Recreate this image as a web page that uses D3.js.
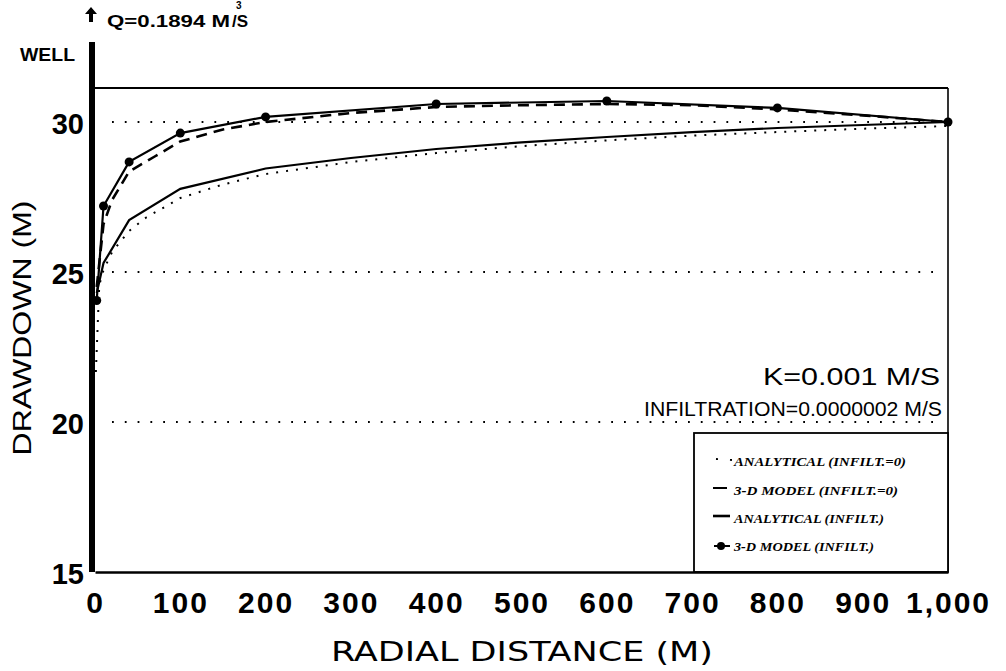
<!DOCTYPE html>
<html>
<head>
<meta charset="utf-8">
<script src="https://cdn.jsdelivr.net/npm/d3@7"></script>
<style>
  body { margin: 0; background: #fff; }
  svg text { font-family: "Liberation Sans", Arial, sans-serif; fill: #000; }
</style>
</head>
<body>
<div id="my_dataviz"></div>
<script>
// data
var xTicks = [0, 100, 200, 300, 400, 500, 600, 700, 800, 900, 1000]
var yTicks = [15, 20, 25, 30]

// analytical, no infiltration (dotted)
var anaNoInfR = [1, 5, 10, 20, 40, 60, 100, 150, 200, 300, 400, 500, 600, 700, 800, 900, 1000]
var anaNoInfS = [21.8, 24.7, 25.2, 25.8, 26.5, 26.95, 27.6, 28.05, 28.4, 28.8, 29.1, 29.33, 29.52, 29.68, 29.8, 29.91, 30.0]

// 3-D model, no infiltration (solid)
var modNoInfR = [2, 10, 40, 100, 200, 300, 400, 500, 600, 700, 800, 900, 1000]
var modNoInfS = [24.3, 25.3, 26.73, 27.77, 28.45, 28.8, 29.1, 29.32, 29.5, 29.66, 29.8, 29.9, 30.0]

// analytical, with infiltration (dashed)
var anaInfR = [2, 10, 20, 40, 70, 100, 150, 200, 300, 400, 500, 600, 700, 800, 900, 1000]
var anaInfS = [24.5, 26.6, 27.4, 28.35, 28.85, 29.35, 29.75, 30.0, 30.3, 30.5, 30.56, 30.6, 30.56, 30.42, 30.22, 30.0]

// 3-D model, with infiltration (solid + dots)
var modInfR = [2, 10, 40, 100, 200, 400, 600, 800, 1000]
var modInfS = [24.05, 27.2, 28.67, 29.63, 30.17, 30.6, 30.7, 30.47, 30.0]

var legendLabels = ["ANALYTICAL (INFILT.=0)", "3-D MODEL (INFILT.=0)", "ANALYTICAL (INFILT.)", "3-D MODEL (INFILT.)"]

var width = 1006
    height = 671

var svg = d3.select("#my_dataviz")
  .append("svg")
    .attr("width", width)
    .attr("height", height)

var x = d3.scaleLinear().domain([0, 1000]).range([95, 948])
var y = d3.scaleLinear().domain([15, 30]).range([572, 122])
var yTop = y.invert(88)

// dotted grid lines at 20, 25, 30
svg.selectAll(".grid")
  .data([20, 25, 30])
  .enter()
  .append("line")
    .attr("x1", 112)
    .attr("x2", 938)
    .attr("y1", function(d) { return y(d) })
    .attr("y2", function(d) { return y(d) })
    .attr("stroke", "#000")
    .attr("stroke-width", 1.8)
    .attr("stroke-dasharray", "1.8,11")

// frame: top "well" line and right border
svg.append("line")
  .attr("x1", x(0)).attr("x2", x(1000))
  .attr("y1", y(yTop)).attr("y2", y(yTop))
  .attr("stroke", "#000").attr("stroke-width", 2)
svg.append("line")
  .attr("x1", x(1000)).attr("x2", x(1000))
  .attr("y1", y(yTop)).attr("y2", y(15))
  .attr("stroke", "#000").attr("stroke-width", 1.6)

// legend box
svg.append("rect")
  .attr("x", 694).attr("y", 433)
  .attr("width", x(1000) - 694).attr("height", y(15) - 433)
  .attr("fill", "#fff")
  .attr("stroke", "#000").attr("stroke-width", 1.8)

var line = d3.line()
  .x(function(d) { return x(d[0]) })
  .y(function(d) { return y(d[1]) })

function pairs(r, s) { return r.map(function(v, i) { return [v, s[i]] }) }

svg.append("path")
  .attr("d", line(pairs(anaNoInfR, anaNoInfS)))
  .attr("fill", "none").attr("stroke", "#000")
  .attr("stroke-width", 2).attr("stroke-dasharray", "2,8")
  .attr("transform", "translate(0,4)")

svg.append("path")
  .attr("d", line(pairs(modNoInfR, modNoInfS)))
  .attr("fill", "none").attr("stroke", "#000").attr("stroke-width", 2.2)

svg.append("path")
  .attr("d", line(pairs(anaInfR, anaInfS)))
  .attr("fill", "none").attr("stroke", "#000")
  .attr("stroke-width", 2.6).attr("stroke-dasharray", "11,7")

svg.append("path")
  .attr("d", line(pairs(modInfR, modInfS)))
  .attr("fill", "none").attr("stroke", "#000").attr("stroke-width", 2.2)

svg.selectAll(".pt")
  .data(pairs(modInfR, modInfS))
  .enter()
  .append("circle")
    .attr("cx", function(d) { return x(d[0]) })
    .attr("cy", function(d) { return y(d[1]) })
    .attr("r", 4.5)
    .attr("fill", "#000")

// thick well axis on the left
svg.append("rect")
  .attr("x", 89).attr("y", 42)
  .attr("width", 6).attr("height", y(15) - 42)
  .attr("fill", "#000")

// bottom axis
var xAxis = svg.append("g")
  .attr("transform", "translate(0," + y(15) + ")")
  .call(d3.axisBottom(x).tickValues(xTicks).tickSize(0).tickPadding(20).tickFormat(d3.format(",")))
xAxis.select(".domain").attr("stroke", "#000").attr("stroke-width", 2.4)
xAxis.selectAll("text")
  .style("font-family", "'Liberation Sans', Arial, sans-serif")
  .style("font-size", "30px").style("font-weight", "bold")
  .style("letter-spacing", "2px")

var yAxis = svg.append("g")
  .attr("transform", "translate(87,0)")
  .call(d3.axisLeft(y).tickValues(yTicks).tickSize(0).tickPadding(3))
yAxis.select(".domain").remove()
yAxis.selectAll("text")
  .style("font-family", "'Liberation Sans', Arial, sans-serif")
  .style("font-size", "29px").style("font-weight", "bold")
  .attr("dy", "0.38em")

// labels
svg.append("text")
  .attr("x", 20).attr("y", 61)
  .attr("textLength", 55).attr("lengthAdjust", "spacingAndGlyphs")
  .style("font-size", "18px").style("font-weight", "bold")
  .text("WELL")

svg.append("text")
  .attr("transform", "translate(31,328) rotate(-90)")
  .attr("text-anchor", "middle")
  .attr("textLength", 255).attr("lengthAdjust", "spacingAndGlyphs")
  .style("font-size", "25px")
  .text("DRAWDOWN (M)")

svg.append("text")
  .attr("x", 522).attr("y", 661)
  .attr("text-anchor", "middle")
  .attr("textLength", 382).attr("lengthAdjust", "spacingAndGlyphs")
  .style("font-size", "27px")
  .style("font-family", "'DejaVu Sans Condensed', 'Liberation Sans Narrow', sans-serif")
  .text("RADIAL DISTANCE (M)")

svg.append("text")
  .attr("x", 940).attr("y", 385)
  .attr("text-anchor", "end")
  .attr("textLength", 177).attr("lengthAdjust", "spacingAndGlyphs")
  .style("font-size", "24px")
  .text("K=0.001 M/S")

svg.append("text")
  .attr("x", 942).attr("y", 416)
  .attr("text-anchor", "end")
  .attr("textLength", 298).attr("lengthAdjust", "spacingAndGlyphs")
  .style("font-size", "20px")
  .text("INFILTRATION=0.0000002 M/S")

// Q label with arrow
svg.append("path")
  .attr("d", "M91,7 L85,14 L89,14 L89,22 L93,22 L93,14 L97,14 Z")
  .attr("fill", "#000")
svg.append("text")
  .attr("x", 107).attr("y", 27)
  .attr("textLength", 123).attr("lengthAdjust", "spacingAndGlyphs")
  .style("font-size", "17px").style("font-weight", "bold")
  .text("Q=0.1894 M")
svg.append("text")
  .attr("x", 236).attr("y", 9)
  .style("font-size", "10px").style("font-weight", "bold")
  .text("3")
svg.append("text")
  .attr("x", 232).attr("y", 27)
  .style("font-size", "17px").style("font-weight", "bold")
  .text("/S")

// legend entries
var legY = [462, 491, 519, 547]
var legW = [172, 164, 150, 140]
svg.selectAll(".leg")
  .data(legendLabels)
  .enter()
  .append("text")
    .attr("x", 734)
    .attr("y", function(d, i) { return legY[i] + 4 })
    .attr("textLength", function(d, i) { return legW[i] })
    .attr("lengthAdjust", "spacingAndGlyphs")
    .style("font-family", "'Liberation Serif', 'DejaVu Serif', serif")
    .style("font-size", "12px").style("font-weight", "bold").style("font-style", "italic")
    .text(function(d) { return d })

svg.append("line").attr("x1", 716).attr("x2", 732).attr("y1", legY[0] - 3).attr("y2", legY[0] - 2)
  .attr("stroke", "#000").attr("stroke-width", 2).attr("stroke-dasharray", "2,12")
svg.append("line").attr("x1", 713).attr("x2", 727).attr("y1", legY[1] - 3).attr("y2", legY[1] - 3)
  .attr("stroke", "#000").attr("stroke-width", 2)
svg.append("line").attr("x1", 713).attr("x2", 730).attr("y1", legY[2] - 3).attr("y2", legY[2] - 3)
  .attr("stroke", "#000").attr("stroke-width", 2.6)
svg.append("line").attr("x1", 714).attr("x2", 730).attr("y1", legY[3] - 1).attr("y2", legY[3] - 1)
  .attr("stroke", "#000").attr("stroke-width", 2)
svg.append("circle").attr("cx", 721).attr("cy", legY[3] - 1).attr("r", 4).attr("fill", "#000")
</script>
</body>
</html>
